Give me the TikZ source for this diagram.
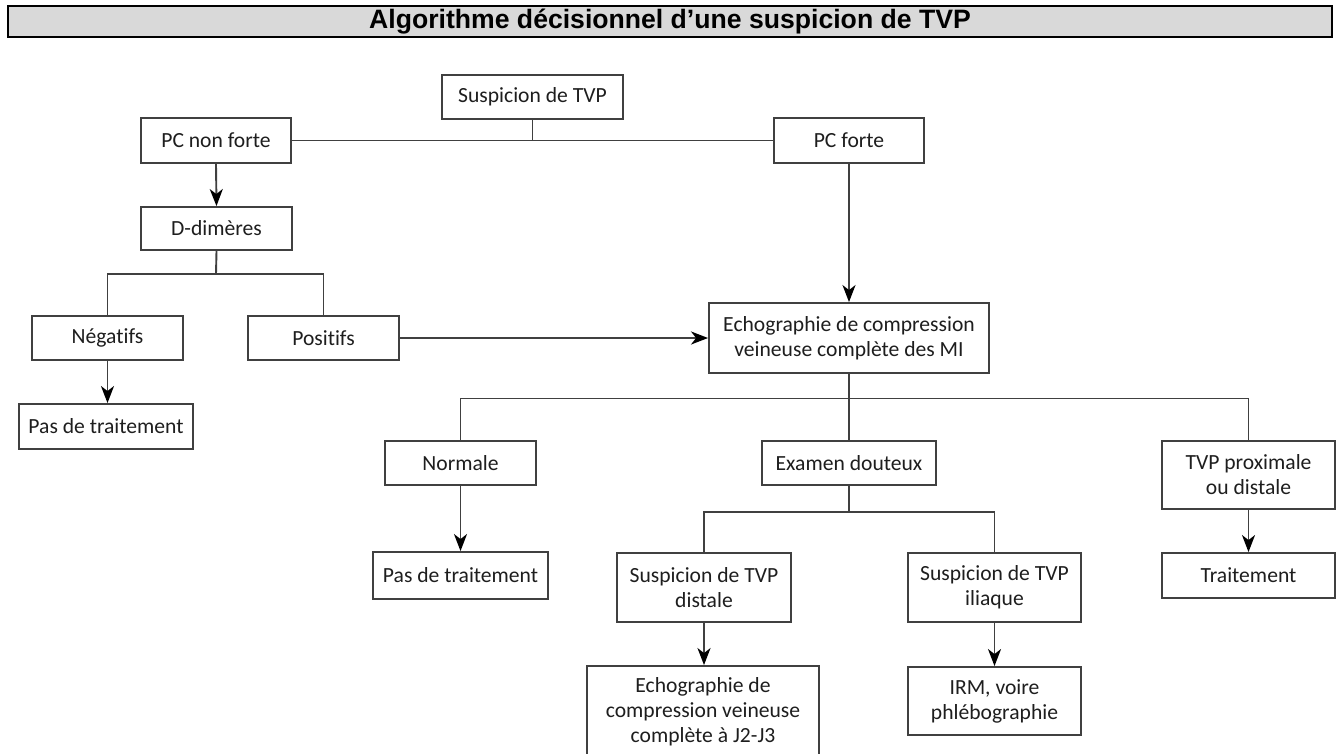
\documentclass[tikz,border=0pt]{standalone}
\usepackage{fontspec}
\setmainfont{Carlito}[Ligatures=NoCommon]
\newfontfamily\titlefont{Liberation Sans}
\usetikzlibrary{arrows.meta,calc}
\definecolor{linec}{HTML}{404040}
\definecolor{textc}{HTML}{1E1E1E}
\definecolor{titlebg}{HTML}{D9D9D9}
\tikzset{
  box/.style={draw=linec, line width=1.9pt, fill=white, inner sep=0pt, align=center,
    text=textc, font=\fontsize{21.6}{25}\selectfont},
  conn/.style={draw=linec, line width=1.9pt},
  arr/.style={conn, -{Stealth[length=17pt, width=13pt, inset=5pt, color=black]}},
}
\begin{document}
\begin{tikzpicture}[x=1pt,y=-1pt]
\useasboundingbox (0,0) rectangle (1338,753);
\clip (0,0) rectangle (1338,753);
\fill[white] (0,0) rectangle (1338,753);
% title
\node (title) [draw=black, line width=2.8pt, fill=titlebg, minimum width=1324pt, minimum height=31pt,
  inner sep=0pt, font=\titlefont\bfseries\fontsize{26.6}{28}\selectfont] at (670,21.5)
  {Algorithme décisionnel d’une suspicion de TVP};
% nodes
\node (sus)  [box, minimum width=181pt, minimum height=44pt] at (532.5,97) {Suspicion de TVP};
\node (pcnf) [box, minimum width=150pt, minimum height=45pt] at (216,140.5) {PC non forte};
\node (pcf)  [box, minimum width=150pt, minimum height=45pt] at (849,140.5) {PC forte};
\node (dd)   [box, minimum width=151pt, minimum height=43pt] at (216.5,228.5) {D-dimères};
\node (neg)  [box, minimum width=151pt, minimum height=44pt] at (107.5,338) {Négatifs};
\node (pos)  [box, minimum width=151pt, minimum height=44pt] at (323.5,338) {Positifs};
\node (pdta) [box, minimum width=174pt, minimum height=45pt] at (106,426.5) {Pas de traitement};
\node (echo) [box, minimum width=280pt, minimum height=70pt] at (849,338) {Echographie de compression\\veineuse complète des MI};
\node (norm) [box, minimum width=151pt, minimum height=44pt] at (460.5,463) {Normale};
\node (exam) [box, minimum width=174pt, minimum height=44pt] at (849,463) {Examen douteux};
\node (tvpp) [box, minimum width=173pt, minimum height=68pt] at (1248.5,475) {TVP proximale\\ou distale};
\node (pdtb) [box, minimum width=175pt, minimum height=47pt] at (460.5,575.5) {Pas de traitement};
\node (susd) [box, minimum width=174pt, minimum height=69pt] at (704,587.5) {Suspicion de TVP\\distale};
\node (susi) [box, minimum width=173pt, minimum height=69pt] at (994.5,587.5) {Suspicion de TVP\\iliaque};
\node (trait)[box, minimum width=173pt, minimum height=45pt] at (1248.5,575.5) {Traitement};
\node (echb) [box, minimum width=232pt, minimum height=92pt] at (703,712) {Echographie de\\compression veineuse\\complète à J2-J3};
\node (irm)  [box, minimum width=173pt, minimum height=68pt] at (994.5,701) {IRM, voire\\phlébographie};
% junctions
\coordinate (ja) at (216,274);
\coordinate (jb) at (849,398.5);
\coordinate (jc) at (849,512);
% connectors
\draw[conn] (pcnf.east) -- (pcf.west);
\draw[conn] (sus.south) -- (sus.south |- pcnf.east);
\draw[arr] (pcnf.south) -- (dd.north);
\draw[conn] (dd.south) -- (ja);
\draw[conn] (neg.north) |- (ja);
\draw[conn] (pos.north) |- (ja);
\draw[arr] (neg.south) -- (neg.south |- pdta.north);
\draw[arr] (pos.east) -- (pos.east -| echo.west);
\draw[arr] (pcf.south) -- (echo.north);
\draw[conn] (echo.south) -- (jb);
\draw[conn] (norm.north) |- (jb);
\draw[conn] (tvpp.north) |- (jb);
\draw[conn] (exam.north) -- (jb);
\draw[arr] (norm.south) -- (pdtb.north);
\draw[conn] (exam.south) -- (jc);
\draw[conn] (susd.north) |- (jc);
\draw[conn] (susi.north) |- (jc);
\draw[arr] (susd.south) -- (susd.south |- echb.north);
\draw[arr] (susi.south) -- (irm.north);
\draw[arr] (tvpp.south) -- (trait.north);
\end{tikzpicture}
\end{document}
